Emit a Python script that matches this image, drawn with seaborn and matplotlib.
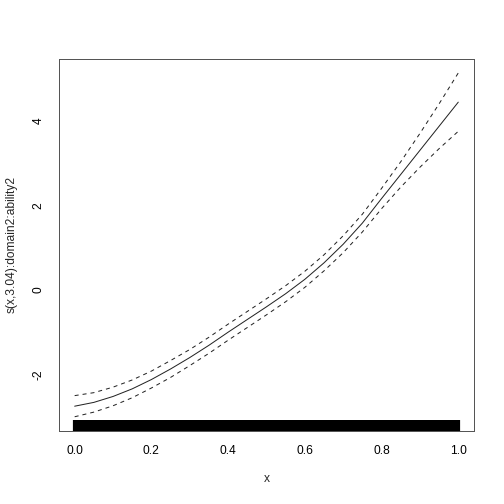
import numpy as np
import pandas as pd
import matplotlib
matplotlib.use('Agg')
import matplotlib.pyplot as plt
import seaborn as sns

# values (mgcv-style smooth plot)
grid_x = [0.00, 0.05, 0.10, 0.15, 0.20, 0.25, 0.30, 0.35, 0.40, 0.45, 0.50,
          0.55, 0.60, 0.65, 0.70, 0.75, 0.80, 0.85, 0.90, 0.95, 1.00]
fit = [-2.75, -2.66, -2.52, -2.34, -2.12, -1.87, -1.60, -1.31, -1.00, -0.70, -0.40,
       -0.09, 0.25, 0.64, 1.08, 1.58, 2.16, 2.73, 3.30, 3.87, 4.44]
upper = [-2.50, -2.43, -2.30, -2.13, -1.92, -1.67, -1.41, -1.12, -0.81, -0.51, -0.21,
         0.10, 0.44, 0.83, 1.28, 1.79, 2.40, 3.03, 3.70, 4.40, 5.13]
lower = [-3.00, -2.89, -2.74, -2.55, -2.32, -2.07, -1.79, -1.50, -1.19, -0.89, -0.59,
         -0.28, 0.06, 0.45, 0.88, 1.37, 1.92, 2.43, 2.90, 3.34, 3.75]

# rug of observed x (dense, covers the full range)
rug_x = [0.00, 0.01, 0.02, 0.03, 0.04, 0.05, 0.06, 0.07, 0.08, 0.09,
         0.10, 0.11, 0.12, 0.13, 0.14, 0.15, 0.16, 0.17, 0.18, 0.19,
         0.20, 0.21, 0.22, 0.23, 0.24, 0.25, 0.26, 0.27, 0.28, 0.29,
         0.30, 0.31, 0.32, 0.33, 0.34, 0.35, 0.36, 0.37, 0.38, 0.39,
         0.40, 0.41, 0.42, 0.43, 0.44, 0.45, 0.46, 0.47, 0.48, 0.49,
         0.50, 0.51, 0.52, 0.53, 0.54, 0.55, 0.56, 0.57, 0.58, 0.59,
         0.60, 0.61, 0.62, 0.63, 0.64, 0.65, 0.66, 0.67, 0.68, 0.69,
         0.70, 0.71, 0.72, 0.73, 0.74, 0.75, 0.76, 0.77, 0.78, 0.79,
         0.80, 0.81, 0.82, 0.83, 0.84, 0.85, 0.86, 0.87, 0.88, 0.89,
         0.90, 0.91, 0.92, 0.93, 0.94, 0.95, 0.96, 0.97, 0.98, 0.99, 1.00]

x_ticks = [0.0, 0.2, 0.4, 0.6, 0.8, 1.0]
y_ticks = [-2, 0, 2, 4]

sns.set_style('white')
plt.rcParams['font.family'] = ['Liberation Sans', 'DejaVu Sans']

df = pd.DataFrame({'x': grid_x, 'fit': fit, 'upper': upper, 'lower': lower})

fig = plt.figure(figsize=(7, 7), dpi=72)
ax = fig.add_axes([0.1177, 0.1454, 0.822, 0.7375])

sns.lineplot(data=df, x='x', y='fit', color='#222222', lw=1.0, ax=ax)
sns.lineplot(data=df, x='x', y='upper', color='#222222', lw=1.0, ax=ax,
             linestyle=(0, (4, 4)))
sns.lineplot(data=df, x='x', y='lower', color='#222222', lw=1.0, ax=ax,
             linestyle=(0, (4, 4)))
sns.rugplot(x=rug_x, height=0.03, color='black', linewidth=4.2, ax=ax,
            expand_margins=False)

ax.set_xlim(-0.04, 1.04)
ax.set_ylim(-3.33, 5.46)
ax.set_xticks(x_ticks)
ax.set_xticklabels(['%.1f' % t for t in x_ticks])
ax.set_yticks(y_ticks)
ax.set_yticklabels([str(t) for t in y_ticks], rotation=90, va='center')
ax.tick_params(axis='both', direction='out', length=7, width=1,
               color='#555555', labelsize=12, labelcolor='black')
ax.tick_params(axis='x', pad=7)
ax.tick_params(axis='y', pad=8)

for sp in ax.spines.values():
    sp.set_visible(True)
    sp.set_color('#555555')
    sp.set_linewidth(1)

ax.set_xlabel('x', fontsize=12)
ax.set_ylabel('s(x,3.04):domain2:ability2', fontsize=12)
ax.xaxis.set_label_coords(0.5, -0.115)
ax.yaxis.set_label_coords(-0.10, 0.5)

fig.savefig('out.png', dpi=72)
